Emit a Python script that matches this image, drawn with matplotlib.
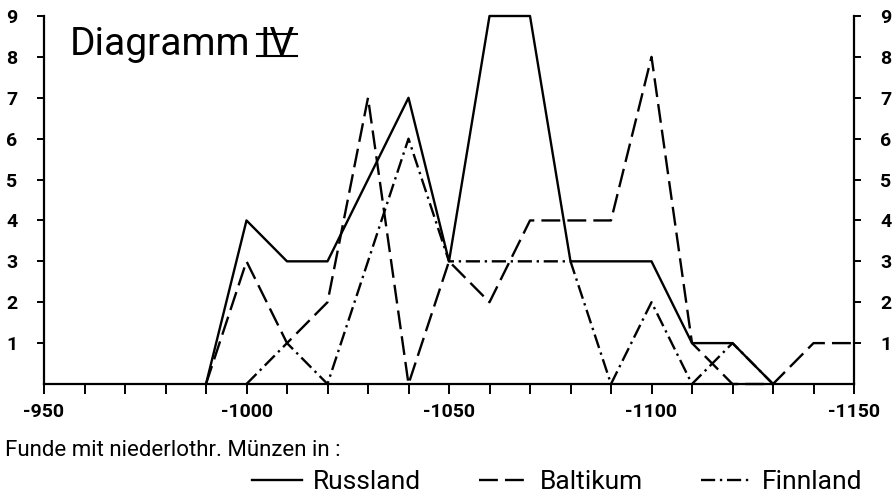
import numpy as np
import matplotlib
matplotlib.use("Agg")
import matplotlib.pyplot as plt
from matplotlib.lines import Line2D

# ---------------------------------------------------------
# Data (finds with Lower-Lotharingian coins, per decade)
# ---------------------------------------------------------
years = [990, 1000, 1010, 1020, 1030, 1040, 1050, 1060, 1070,
         1080, 1090, 1100, 1110, 1120, 1130, 1140, 1150]
russland = [0, 4, 3, 3, 5, 7, 3, 9, 9, 3, 3, 3, 1, 1, 0, None, None]
baltikum = [0, 3, 1, 2, 7, 0, 3, 2, 4, 4, 4, 8, 1, 0, 0, 1, 1]
finnland = [None, 0, 1, 0, 3, 6, 3, 3, 3, 3, 0, 2, 0, 1, 0, None, None]

x_major = [950, 1000, 1050, 1100, 1150]
x_labels = ["-950", "-1000", "-1050", "-1100", "-1150"]
y_ticks = [1, 2, 3, 4, 5, 6, 7, 8, 9]

series = [
    ("Russland", russland, "-"),
    ("Baltikum", baltikum, (0, (8, 3))),
    ("Finnland", finnland, (0, (6, 2, 1, 2))),
]

plt.rcParams["font.family"] = ["Roboto", "DejaVu Sans"]

fig = plt.figure(figsize=(8.94, 5.0), dpi=100)
ax = fig.add_axes([44 / 894, 1 - 384 / 500, 810 / 894, 368 / 500])

for name, vals, ls in series:
    v = np.array([np.nan if a is None else a for a in vals], dtype=float)
    ax.plot(years, v, color="black", linewidth=1.7, linestyle=ls,
            label=name, clip_on=False, dash_capstyle="butt")

ax.set_xlim(950, 1150)
ax.set_ylim(0, 9)

# axes / spines
ax.spines["top"].set_visible(False)
for s in ["left", "right", "bottom"]:
    ax.spines[s].set_linewidth(1.6)

ax.set_xticks(x_major)
ax.set_xticklabels(x_labels)
ax.set_xticks(np.arange(950, 1151, 10), minor=True)
ax.set_yticks(y_ticks)
ax.set_yticklabels([str(t) for t in y_ticks])

ax.tick_params(axis="x", which="both", direction="out", length=7,
               width=1.4, pad=7)
ax.tick_params(axis="y", which="both", direction="out", length=5,
               width=1.4, pad=14, left=True, right=True,
               labelleft=True, labelright=True)
for lab in ax.get_xticklabels() + ax.get_yticklabels():
    lab.set_fontweight("bold")
    lab.set_fontsize(14)

# ---------------------------------------------------------
# Title "Diagramm IV" with over/underlined numeral
# ---------------------------------------------------------
t1 = fig.text(70 / 894, 1 - 55 / 500, "Diagramm", fontsize=28,
              va="baseline", ha="left")
fig.canvas.draw()
r = fig.canvas.get_renderer()
b1 = t1.get_window_extent(renderer=r).transformed(fig.transFigure.inverted())
iv = fig.text(b1.x1 + 9 / 894, 1 - 55 / 500, "IV", fontsize=28,
              va="baseline", ha="left")
fig.canvas.draw()
bb = iv.get_window_extent(renderer=r).transformed(fig.transFigure.inverted())
for yy in (bb.y0 + 0.014, bb.y1 - 0.016):
    fig.add_artist(Line2D([bb.x0 - 0.003, bb.x1 + 0.003], [yy, yy],
                          transform=fig.transFigure, color="black",
                          linewidth=1.5))

# ---------------------------------------------------------
# Caption and legend below the plot
# ---------------------------------------------------------
fig.text(5 / 894, 1 - 456 / 500, "Funde mit niederlothr. Münzen in :",
         fontsize=16, va="baseline", ha="left")

leg = fig.legend(loc="center right", bbox_to_anchor=(886 / 894, 1 - 482 / 500),
                 ncol=3, frameon=False, fontsize=19, handlelength=1.9,
                 handletextpad=0.4, columnspacing=2.2)

fig.savefig("out.png", dpi=100)
